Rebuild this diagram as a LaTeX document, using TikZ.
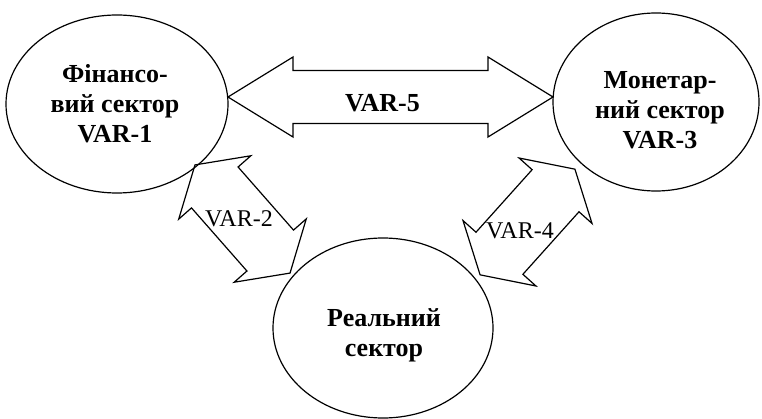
\documentclass[tikz,border=0pt]{standalone}
\usepackage{fontspec}
\setmainfont{Liberation Serif}[BoldFont={Liberation Serif Bold}]
\usetikzlibrary{shapes.geometric}
\tikzset{
  sector/.style={ellipse,draw,line width=1.2pt,inner sep=0pt},
  arrowline/.style={draw,line width=1.2pt,line join=miter},
  biglabel/.style={font=\fontsize{26}{30}\selectfont\bfseries,inner sep=0pt,align=center},
  smalllabel/.style={font=\fontsize{24}{26}\selectfont,inner sep=0pt}
}
% #1 half length, #2 head length, #3 head half width, #4 shaft half width
\newcommand\blockarr[4]{%
  \draw[arrowline] (-#1,0) -- (-#1+#2,#3) -- (-#1+#2,#4) -- (#1-#2,#4) -- (#1-#2,#3)
    -- (#1,0) -- (#1-#2,-#3) -- (#1-#2,-#4) -- (-#1+#2,-#4) -- (-#1+#2,-#3) -- cycle;}
\begin{document}
\begin{tikzpicture}[x=1pt,y=1pt]
\useasboundingbox (0,0) rectangle (762,418);
% sectors
\node[sector,minimum width=222pt,minimum height=178pt] (fin) at (117,314) {};
\node[sector,minimum width=206pt,minimum height=178pt] (mon) at (656,316) {};
\node[sector,minimum width=220pt,minimum height=180pt] (real) at (383,90) {};
\node[biglabel] (fint) at (115,314.5) {Фінансо-\\вий сектор\\VAR-1};
\node[biglabel] (mont) at (660,308) {Монетар-\\ний сектор\\VAR-3};
\node[biglabel] (realt) at (384,83) {Реальний\\сектор};
% block arrows
\begin{scope}[shift={(390.5,321)}]
  \blockarr{162.5}{65}{40}{26.5}
\end{scope}
\begin{scope}[shift={(242.5,199)},rotate=-48.7]
  \blockarr{72}{30}{48}{31}
\end{scope}
\begin{scope}[shift={(527.5,196)},rotate=48.1]
  \blockarr{71}{29}{49}{31.5}
\end{scope}
\node[biglabel] (v5t) at (382.5,314.5) {VAR-5};
\node[smalllabel] (v2t) at (239,199.5) {VAR-2};
\node[smalllabel] (v4t) at (520,187) {VAR-4};
\end{tikzpicture}
\end{document}
